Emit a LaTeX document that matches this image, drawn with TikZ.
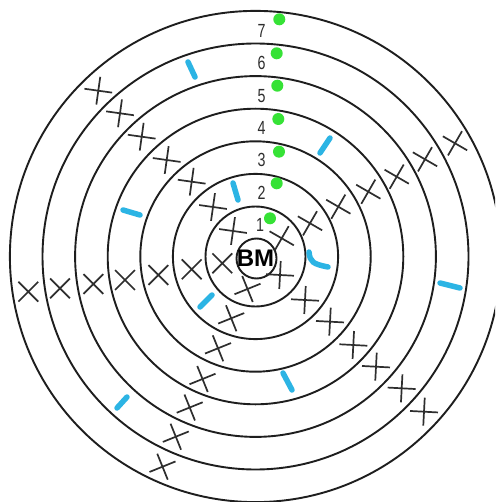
\documentclass[tikz,border=0pt]{standalone}
\usepackage{fontspec}
\setmainfont{Liberation Sans}
\definecolor{ringcol}{HTML}{1E1E1E}
\definecolor{xcol}{HTML}{2E2E2E}
\definecolor{dashcol}{HTML}{2CB4E4}
\definecolor{dotcol}{HTML}{36E236}
\tikzset{
  ring/.style={draw=ringcol, line width=1.9pt},
  crossline/.style={draw=xcol, line width=1.7pt},
  xmark/.pic={\draw[crossline] (-14,0) -- (14,0) (0,-14) -- (0,14);},
  bluedash/.style={draw=dashcol, line width=5.5pt, line cap=round},
  greendot/.style={circle, fill=dotcol, minimum size=12pt, inner sep=0pt},
  ringlabel/.style={inner sep=0pt, text=xcol, font=\fontsize{19}{19}\selectfont},
}
\begin{document}
\begin{tikzpicture}[x=1pt,y=1pt]
\useasboundingbox (0,0) rectangle (495,-502);
\clip (0,0) rectangle (495,-502);
\fill[white] (0,0) rectangle (495,-502);
% rings
\foreach \r in {50,82.6,115.2,147.8,180.4,213,245.6}
  \draw[ring] (255.5,-256.5) circle (\r);
\node[ring, circle, minimum size=40pt, inner sep=0pt] (bmc) at (256.5,-258.5) {};
% crosses: upper-left ray
\foreach \x/\y in {233/231,213/207,191.7/181.7,166.7/160,141.7/136.7,120/113.3,98.3/90.7}
  \pic[rotate=-8] at (\x,-\y) {xmark};
% upper-right ray
\foreach \x/\y in {281.7/238.3,310/223.3,338.3/206.7,368.3/191.7,396.7/176.7,425/159.3,455/143.3}
  \pic[rotate=-30] at (\x,-\y) {xmark};
% left row
\foreach \x/\y in {222.3/263.3,191.7/269.3,158.3/275,125/280,93.3/284,60/288.3,28.3/291.7}
  \pic[rotate=45] at (\x,-\y) {xmark};
% lower-right ray
\foreach \x/\y in {280/275,305/300,330/321.7,353.3/345,376/366.7,401.7/388.3,424/411.7}
  \pic[rotate=-3] at (\x,-\y) {xmark};
% lower-left ray
\foreach \x/\y in {247.5/289,231.2/318.3,218/348.3,202.5/379,189.7/407.5,175.8/436.7,162.5/466.7}
  \pic[rotate=22] at (\x,-\y) {xmark};
% blue dashes
\draw[bluedash] (188,-62) -- (195,-77);
\draw[bluedash] (330,-138) -- (320,-153);
\draw[bluedash] (233,-183) -- (238,-200);
\draw[bluedash] (123,-210) -- (140,-215);
\draw[bluedash] (309,-252) .. controls (310,-262) and (313,-264) .. (328,-267);
\draw[bluedash] (440,-283) -- (460,-288);
\draw[bluedash] (200,-307) -- (212,-295);
\draw[bluedash] (283,-373) -- (292,-390);
\draw[bluedash] (117,-408) -- (127,-397);
% green dots
\node[greendot] (g7) at (279.3,-19.3) {};
\node[greendot] (g6) at (276.7,-53.3) {};
\node[greendot] (g5) at (277.3,-85.7) {};
\node[greendot] (g4) at (278.3,-119) {};
\node[greendot] (g3) at (279,-151.7) {};
\node[greendot] (g2) at (276.7,-183.3) {};
\node[greendot] (g1) at (270,-218.3) {};
% ring labels
\node[ringlabel] (l7) at (261.7,-30.7) {\scalebox{0.75}[1]{7}};
\node[ringlabel] (l6) at (261.7,-63.3) {\scalebox{0.75}[1]{6}};
\node[ringlabel] (l5) at (261.7,-95.7) {\scalebox{0.75}[1]{5}};
\node[ringlabel] (l4) at (261.7,-128.3) {\scalebox{0.75}[1]{4}};
\node[ringlabel] (l3) at (261.7,-160) {\scalebox{0.75}[1]{3}};
\node[ringlabel] (l2) at (261.7,-192.7) {\scalebox{0.75}[1]{2}};
\node[ringlabel] (l1) at (260,-225) {\scalebox{0.75}[1]{1}};
% BM
\node[inner sep=0pt, text=black, font=\bfseries\fontsize{24}{24}\selectfont] (bm) at (255.5,-258) {BM};
\end{tikzpicture}
\end{document}
